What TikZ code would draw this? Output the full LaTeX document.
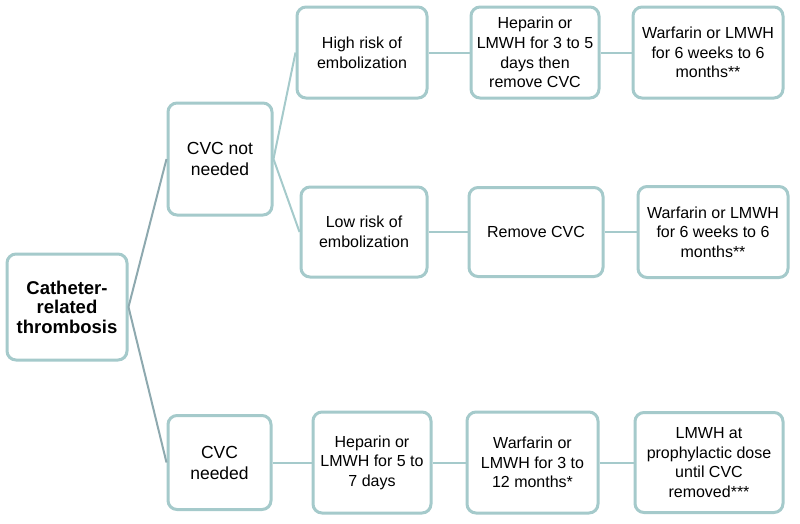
\documentclass[tikz,border=0pt]{standalone}
\usepackage{fontspec}
\setmainfont{Liberation Sans}
\usepackage{xcolor}
\usepackage{tikz}
\usetikzlibrary{
    positioning
}
\definecolor{edgeteal}{HTML}{A5CACB}
\definecolor{rootline}{HTML}{8EA9AF}
\tikzstyle{stage} = [
    rectangle, draw=edgeteal,
    line width=3pt,
    rounded corners=9pt,
    text centered,
    align=center,
    inner sep=0pt,
    fill=white,
    font=\fontsize{16}{19.6}\selectfont
]
\tikzstyle{link} = [
    line width=2pt,
    draw=edgeteal
]

\begin{document}
\begin{tikzpicture}[x=1pt, y=-1pt]
    \useasboundingbox (0,0) rectangle (800,523);
    % first column
    \node[stage, minimum width=120pt, minimum height=106pt, font=\fontsize{18.5}{19.5}\selectfont\bfseries]
        (root) at (67,307) {Catheter-\\related\\thrombosis};
    % second column
    \node[stage, minimum width=104pt, minimum height=112pt, font=\fontsize{17.5}{21}\selectfont]
        (notneeded) at (220,159) {CVC not\\needed};
    \node[stage, minimum width=103pt, minimum height=94pt, font=\fontsize{17.5}{21}\selectfont]
        (needed) at (219.5,462.5) {CVC\\needed};
    % upper branches
    \node[stage, minimum width=130pt, minimum height=91pt] (highrisk) at (362,52.5) {High risk of\\embolization};
    \node[stage, minimum width=126pt, minimum height=90pt] (lowrisk) at (364,232) {Low risk of\\embolization};
    \node[stage, minimum width=128pt, minimum height=91pt] (heptop) at (535,52.5) {Heparin or\\LMWH for 3 to 5\\days then\\remove CVC};
    \node[stage, minimum width=150pt, minimum height=91pt] (warftop) at (708,52.5) {Warfarin or LMWH\\for 6 weeks to 6\\months**};
    \node[stage, minimum width=134pt, minimum height=89pt] (remove) at (536,232) {Remove CVC};
    \node[stage, minimum width=150pt, minimum height=91pt] (warfmid) at (713,232) {Warfarin or LMWH\\for 6 weeks to 6\\months**};
    % lower branch
    \node[stage, minimum width=118pt, minimum height=101pt] (hepbot) at (372,462.5) {Heparin or\\LMWH for 5 to\\7 days};
    \node[stage, minimum width=131pt, minimum height=101pt] (warfbot) at (532.5,462.5) {Warfarin or\\LMWH for 3 to\\12 months*};
    \node[stage, minimum width=148pt, minimum height=100pt] (prophyl) at (709,462.5) {LMWH at\\prophylactic dose\\until CVC\\removed***};

    % connectors
    \draw[link, draw=rootline] (root.east) -- (notneeded.west);
    \draw[link, draw=rootline] (root.east) -- (needed.west);
    \draw[link] (notneeded.east) -- (highrisk.west);
    \draw[link] (notneeded.east) -- (lowrisk.west);
    \draw[link] (highrisk) -- (heptop);
    \draw[link] (heptop) -- (warftop);
    \draw[link] (lowrisk) -- (remove);
    \draw[link] (remove) -- (warfmid);
    \draw[link] (needed) -- (hepbot);
    \draw[link] (hepbot) -- (warfbot);
    \draw[link] (warfbot) -- (prophyl);
\end{tikzpicture}
\end{document}
